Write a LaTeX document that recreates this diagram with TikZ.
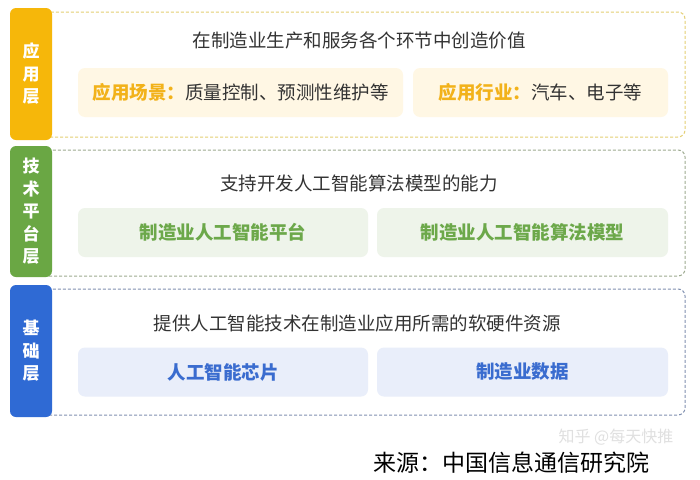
\documentclass[tikz,border=0pt]{standalone}
\usepackage{fontspec}
\setmainfont{Noto Sans CJK SC}
\definecolor{ytab}{HTML}{F6B70A}
\definecolor{ytext}{HTML}{F2B21A}
\definecolor{yfill}{HTML}{FFF7E4}
\definecolor{ydash}{HTML}{E4CF72}
\definecolor{gtab}{HTML}{6AA744}
\definecolor{gtext}{HTML}{6CA84A}
\definecolor{gfill}{HTML}{EEF4EA}
\definecolor{gdash}{HTML}{9DAA90}
\definecolor{btab}{HTML}{2F6AD4}
\definecolor{btext}{HTML}{3A6CCF}
\definecolor{bfill}{HTML}{E9EEFA}
\definecolor{bdash}{HTML}{8090B0}
\definecolor{txt}{HTML}{333333}
\begin{document}
\begin{tikzpicture}[x=1pt,y=-1pt,
  layertab/.style={rounded corners=6pt, minimum width=42pt, inner sep=0pt, text=white,
    align=center, font=\fontsize{17}{22.5}\selectfont\bfseries},
  layerbox/.style={draw, dashed, line width=1pt, dash pattern=on 3pt off 2pt, rounded corners=7pt, fill=white},
  subbox/.style={rounded corners=7pt, minimum height=49pt, inner sep=0pt},
  title/.style={font=\fontsize{18.5}{20}\selectfont, text=txt},
  sublabel/.style={font=\fontsize{18.5}{20}\selectfont\bfseries}
]
\useasboundingbox[fill=white] (0,0) rectangle (700,479);

% ---- application layer
\draw[layerbox, draw=ydash] (40,12) rectangle (685,137);
\node[layertab, fill=ytab, minimum height=132pt] (tapp) at (31,74) {应\\用\\层};
\node[title] (happ) at (359,40) {在制造业生产和服务各个环节中创造价值};
\node[subbox, fill=yfill, minimum width=325pt] (app1) at (240.5,92.5)
  {\fontsize{18.5}{20}\selectfont\textcolor{ytext}{\bfseries 应用场景：}\textcolor{txt}{质量控制、预测性维护等}};
\node[subbox, fill=yfill, minimum width=255pt] (app2) at (540.5,92.5)
  {\fontsize{18.5}{20}\selectfont\textcolor{ytext}{\bfseries 应用行业：}\textcolor{txt}{汽车、电子等}};

% ---- platform layer
\draw[layerbox, draw=gdash] (40,150) rectangle (685,276);
\node[layertab, fill=gtab, minimum height=131pt] (tplat) at (31,211.5) {技\\术\\平\\台\\层};
\node[title] (hplat) at (359,183) {支持开发人工智能算法模型的能力};
\node[subbox, fill=gfill, minimum width=290pt, sublabel, text=gtext] (plat1) at (223,232.5) {制造业人工智能平台};
\node[subbox, fill=gfill, minimum width=291pt, sublabel, text=gtext] (plat2) at (522.5,232.5) {制造业人工智能算法模型};

% ---- base layer
\draw[layerbox, draw=bdash] (40,289) rectangle (685,415);
\node[layertab, fill=btab, minimum height=132pt] (tbase) at (31,351) {基\\础\\层};
\node[title] (hbase) at (357,323) {提供人工智能技术在制造业应用所需的软硬件资源};
\node[subbox, fill=bfill, minimum width=290pt, sublabel, text=btext] (base1) at (223,372) {人工智能芯片};
\node[subbox, fill=bfill, minimum width=291pt, sublabel, text=btext] (base2) at (522.5,372) {制造业数据};

% ---- source and watermark
\node[font=\fontsize{16}{18}\selectfont, text=black!12, inner sep=1pt] (wm) at (616,437) {知乎 @每天快推};
\node[font=\fontsize{23}{25}\selectfont, text=black, inner sep=1pt] (src) at (511,463) {来源：中国信息通信研究院};
\end{tikzpicture}
\end{document}
